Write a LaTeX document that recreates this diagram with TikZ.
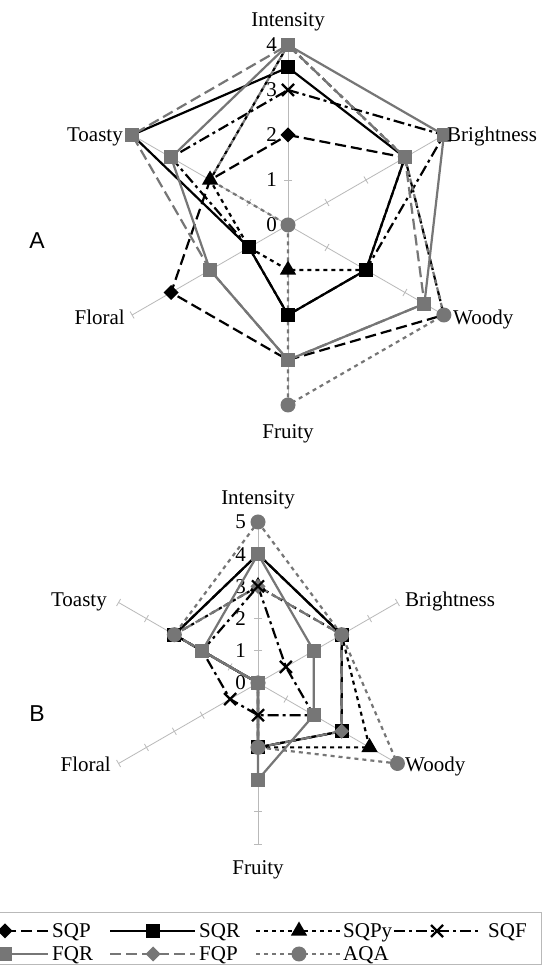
\documentclass[tikz,border=0pt]{standalone}
\usepackage{fontspec}
\setmainfont{Liberation Serif}
\newfontfamily\arialfont{Liberation Sans}
\usetikzlibrary{shapes.geometric,shapes.misc}
\definecolor{sgray}{RGB}{118,118,118}
\definecolor{axgray}{RGB}{185,185,185}
\tikzset{
  axisline/.style={draw=axgray, line width=0.8pt},
  ser/.style={line width=2.2pt, line join=round},
  sqp/.style={ser, draw=black, dash pattern=on 11pt off 5pt},
  sqr/.style={ser, draw=black},
  sqpy/.style={ser, draw=black, dash pattern=on 4pt off 4pt},
  sqf/.style={ser, draw=black, dash pattern=on 11pt off 4pt on 3pt off 4pt},
  fqr/.style={ser, draw=sgray},
  fqp/.style={ser, draw=sgray, dash pattern=on 11pt off 5pt},
  aqa/.style={ser, draw=sgray, dash pattern=on 4pt off 4pt},
  mk/.style={inner sep=0pt, outer sep=0pt},
  msq/.style={mk, rectangle, minimum size=14pt, fill=#1},
  mdia/.style={mk, diamond, minimum size=15pt, fill=#1},
  mtri/.style={mk, regular polygon, regular polygon sides=3, minimum size=19pt, fill=#1},
  mcirc/.style={mk, circle, minimum size=15pt, fill=#1},
  mx/.style={mk, cross out, draw=black, line width=2.2pt, minimum size=12pt},
  lbl/.style={font=\fontsize{21}{24}\selectfont, inner sep=0pt},
  big/.style={font=\arialfont\fontsize{23}{26}\selectfont, inner sep=0pt},
}
\newcommand\radarser[3]{\foreach \v [count=\k] in {#3}{\coordinate (#1-\k) at ({90-60*(\k-1)}:{\v*#2});}}
\newcommand\radarline[2]{\draw[#2] (#1-1) -- (#1-2) -- (#1-3) -- (#1-4) -- (#1-5) -- (#1-6) -- cycle;}
\newcommand\radarmarks[3]{\foreach \k in {#3}{\node[#2] (m#1-\k) at (#1-\k) {};}}
\begin{document}
\begin{tikzpicture}[x=1pt,y=1pt]
\useasboundingbox (0,0) rectangle (545,967);
\fill[white] (0,0) rectangle (545,967);

% ---------------- Chart A ----------------
\begin{scope}[shift={(288,742)}]
  \coordinate (A-c) at (0,0);
  \foreach \k in {1,...,6}{
    \pgfmathsetmacro\ang{90-60*(\k-1)}
    \coordinate (A-ax\k) at (\ang:180);
    \draw[axisline] (A-c) -- (A-ax\k);
    \foreach \t in {1,...,4}{\draw[axisline,rotate=\ang] ({\t*45},-4) -- ({\t*45},4);}
  }
  \foreach \t in {0,...,4}{\node[lbl,anchor=base east] (A-num\t) at (-11,{\t*45-7}) {\t};}
  \radarser{A-SQP}{45}{2,3,4,3,3,2}
  \radarser{A-SQR}{45}{3.5,3,2,2,1,4}
  \radarser{A-SQPy}{45}{4,3,2,1,1,2}
  \radarser{A-SQF}{45}{3,4,2,2,1,3}
  \radarser{A-FQR}{45}{4,4,3.5,3,2,3}
  \radarser{A-FQP}{45}{4,3,3.5,3,2,4}
  \radarser{A-AQA}{45}{4,3,4,4,0,2}
\end{scope}
\radarline{A-SQP}{sqp}
\radarline{A-SQR}{sqr}
\radarline{A-SQPy}{sqpy}
\radarline{A-SQF}{sqf}
\radarline{A-FQR}{fqr}
\radarline{A-FQP}{fqp}
\radarline{A-AQA}{aqa}
\radarmarks{A-SQF}{mx}{1}
\radarmarks{A-SQP}{mdia=black}{1,5}
\radarmarks{A-SQPy}{mtri=black}{4,6}
\radarmarks{A-SQR}{msq=black}{1,...,6}
\radarmarks{A-FQP}{msq=sgray}{1,...,6}
\radarmarks{A-FQR}{msq=sgray}{1,...,6}
\radarmarks{A-AQA}{mcirc=sgray}{3,4,5}
\node[lbl,anchor=base] (A-int) at (288,940) {Intensity};
\node[lbl,anchor=base east] (A-toa) at (123,825) {Toasty};
\node[lbl,anchor=base west] (A-bri) at (447,825) {Brightness};
\node[lbl,anchor=base west] (A-woo) at (453,642) {Woody};
\node[lbl,anchor=base east] (A-flo) at (125,642) {Floral};
\node[lbl,anchor=base] (A-fru) at (288,528) {Fruity};
\node[big,anchor=base] (A-lab) at (37,718) {A};

% ---------------- Chart B ----------------
\begin{scope}[shift={(258,284)}]
  \coordinate (B-c) at (0,0);
  \foreach \k in {1,...,6}{
    \pgfmathsetmacro\ang{90-60*(\k-1)}
    \coordinate (B-ax\k) at (\ang:161);
    \draw[axisline] (B-c) -- (B-ax\k);
    \foreach \t in {1,...,5}{\draw[axisline,rotate=\ang] ({\t*32.2},-4) -- ({\t*32.2},4);}
  }
  \foreach \t in {0,...,5}{\node[lbl,anchor=base east] (B-num\t) at (-12,{\t*32.2-7}) {\t};}
  \radarser{B-SQP}{32.2}{4,3,3,2,0,3}
  \radarser{B-SQR}{32.2}{4,3,3,2,0,3}
  \radarser{B-SQPy}{32.2}{3,3,4,2,0,3}
  \radarser{B-SQF}{32.2}{3,1,2,1,1,2}
  \radarser{B-FQR}{32.2}{4,2,2,3,0,2}
  \radarser{B-FQP}{32.2}{3,3,3,2,0,3}
  \radarser{B-AQA}{32.2}{5,3,5,2,0,3}
\end{scope}
\radarline{B-SQP}{sqp}
\radarline{B-SQR}{sqr}
\radarline{B-SQPy}{sqpy}
\radarline{B-SQF}{sqf}
\radarline{B-FQR}{fqr}
\radarline{B-FQP}{fqp}
\radarline{B-AQA}{aqa}
\radarmarks{B-SQPy}{mtri=black}{1,3}
\radarmarks{B-SQR}{msq=black}{1,...,6}
\radarmarks{B-FQP}{mdia=sgray}{1,...,6}
\radarmarks{B-AQA}{mcirc=sgray}{1,...,6}
\radarmarks{B-SQF}{mx}{1,...,6}
\radarmarks{B-FQR}{msq=sgray}{1,...,6}
\node[lbl,anchor=base] (B-int) at (258,462) {Intensity};
\node[lbl,anchor=base east] (B-toa) at (107,360) {Toasty};
\node[lbl,anchor=base west] (B-bri) at (405,360) {Brightness};
\node[lbl,anchor=base west] (B-woo) at (405,195) {Woody};
\node[lbl,anchor=base east] (B-flo) at (111,195) {Floral};
\node[lbl,anchor=base] (B-fru) at (258,92) {Fruity};
\node[big,anchor=base] (B-lab) at (37,245) {B};

% ---------------- Legend ----------------
\draw[axisline] (-5,3) rectangle (541,55);
% row 1
\coordinate (L1a) at (-38,36); \coordinate (L1b) at (48,36);
\draw[sqp] (L1b) -- (L1a);
\node[mdia=black] (L1m) at (5,36) {};
\node[lbl,anchor=base west] (L1t) at (52,29) {SQP};
\coordinate (L2a) at (110,36); \coordinate (L2b) at (195,36);
\draw[sqr] (L2a) -- (L2b);
\node[msq=black] (L2m) at (153,36) {};
\node[lbl,anchor=base west] (L2t) at (199,29) {SQR};
\coordinate (L3a) at (256,36); \coordinate (L3b) at (342,36);
\draw[sqpy] (L3a) -- (L3b);
\node[mtri=black] (L3m) at (299,36) {};
\node[lbl,anchor=base west] (L3t) at (343,29) {SQPy};
\coordinate (L4a) at (394,36); \coordinate (L4b) at (480,36);
\draw[sqf] (L4a) -- (L4b);
\node[mx] (L4m) at (437,36) {};
\node[lbl,anchor=base west] (L4t) at (488,29) {SQF};
% row 2
\coordinate (L5a) at (-38,13); \coordinate (L5b) at (48,13);
\draw[fqr] (L5a) -- (L5b);
\node[msq=sgray] (L5m) at (5,13) {};
\node[lbl,anchor=base west] (L5t) at (52,6) {FQR};
\coordinate (L6a) at (110,13); \coordinate (L6b) at (195,13);
\draw[fqp] (L6a) -- (L6b);
\node[mdia=sgray] (L6m) at (153,13) {};
\node[lbl,anchor=base west] (L6t) at (199,6) {FQP};
\coordinate (L7a) at (256,13); \coordinate (L7b) at (342,13);
\draw[aqa] (L7a) -- (L7b);
\node[mcirc=sgray] (L7m) at (299,13) {};
\node[lbl,anchor=base west] (L7t) at (343,6) {AQA};
\end{tikzpicture}
\end{document}
